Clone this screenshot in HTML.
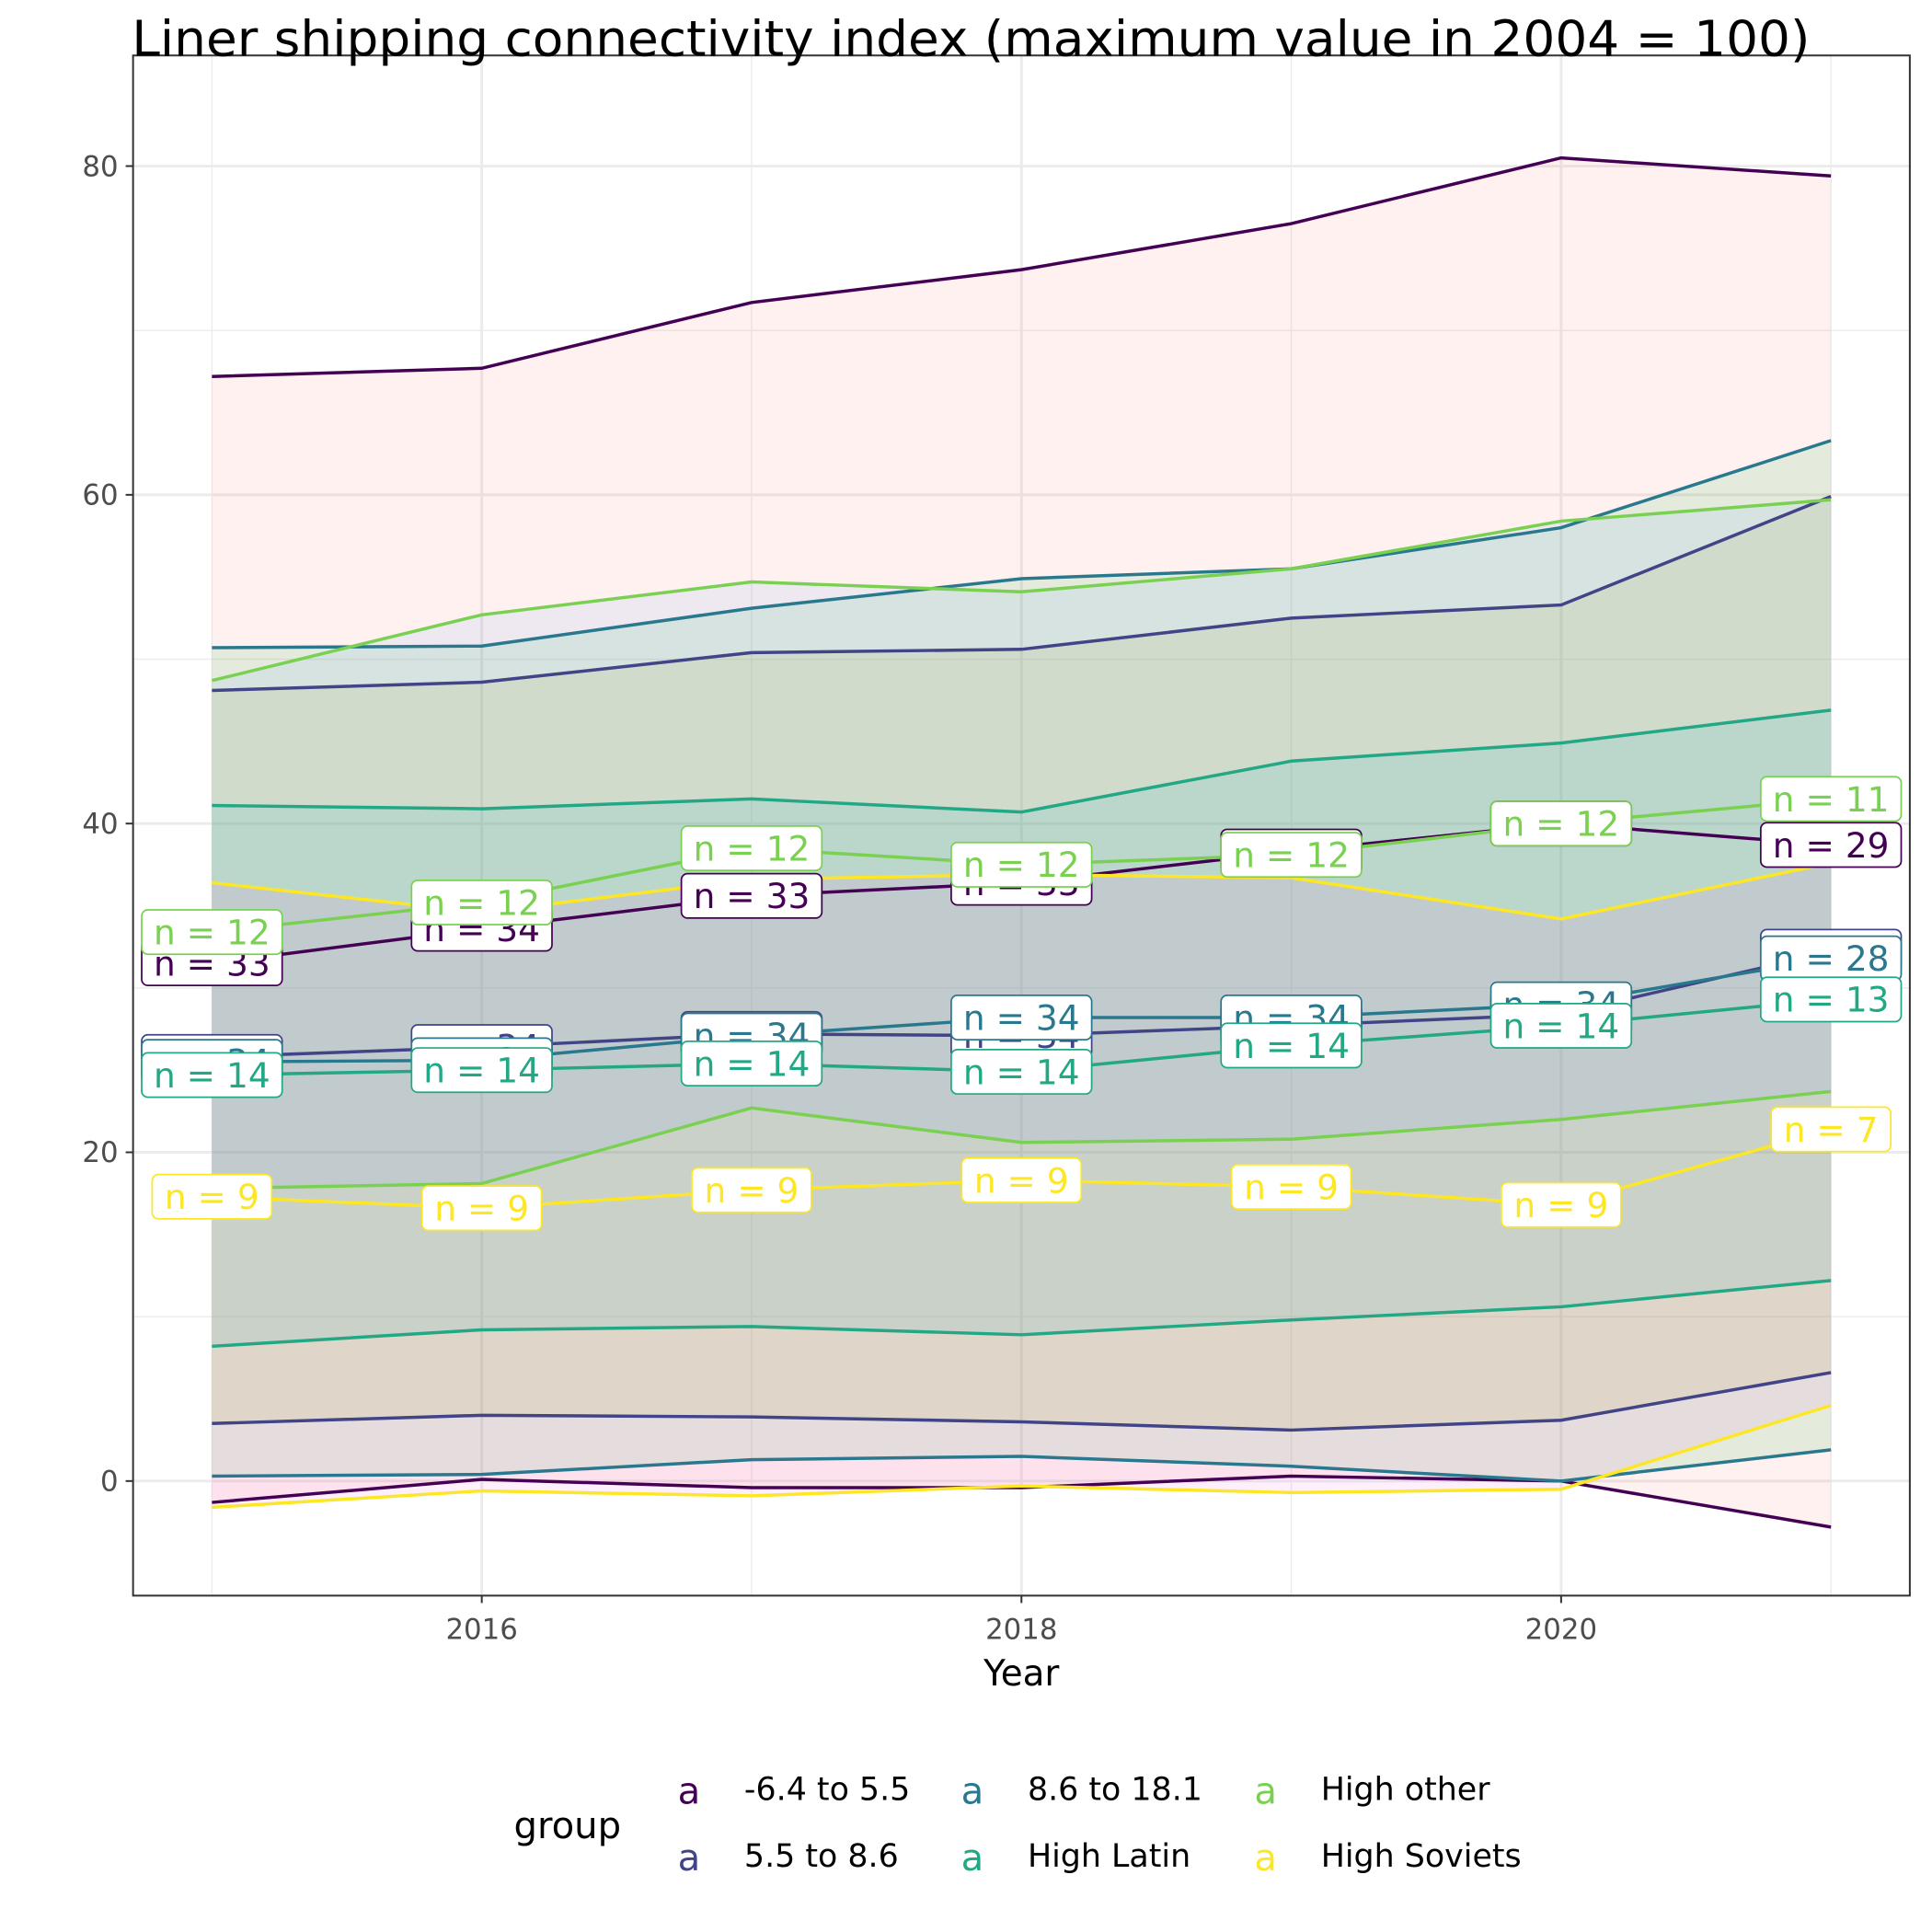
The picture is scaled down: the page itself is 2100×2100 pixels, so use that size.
<!DOCTYPE html>
<html><head><meta charset="utf-8"><style>
html,body{margin:0;padding:0;background:#fff;}
svg{display:block;font-family:"DejaVu Sans","Liberation Sans",sans-serif;}
</style></head><body>
<svg id="chart" width="2100" height="2100" viewBox="0 0 1568 1568" xmlns="http://www.w3.org/2000/svg">
<rect x="108" y="45" width="1442" height="1250" fill="#fff"/>
<g id="grid"></g>
<g id="ribbons"></g>
<g id="lines"></g>
<g id="labels"></g>
<rect x="108" y="45" width="1442" height="1250" fill="none" stroke="#333" stroke-width="1.5"/>
<text x="107" y="45" font-size="40" fill="#000" textLength="1362" lengthAdjust="spacingAndGlyphs">Liner shipping connectivity index (maximum value in 2004 = 100)</text>
<g id="axes"></g>
<text x="829" y="1368" font-size="29" text-anchor="middle">Year</text>
<g id="legend">
<text x="417" y="1492" font-size="30">group</text>
</g>
</svg>
<script>
const years=[2015,2016,2017,2018,2019,2020,2021];
const groups=["-6.4 to 5.5","5.5 to 8.6","8.6 to 18.1","High Latin","High other","High Soviets"];
const lineColors=["#440154","#414487","#2A788E","#22A884","#7AD151","#FDE725"];
const fillColors=["#F8766D","#B79F00","#00BA38","#00BFC4","#619CFF","#F564E3"];
const upperVals=[
[67.2,67.7,71.7,73.7,76.5,80.5,79.4],
[48.1,48.6,50.4,50.6,52.5,53.3,59.9],
[50.7,50.8,53.1,54.9,55.5,58.0,63.3],
[41.1,40.9,41.5,40.7,43.8,44.9,46.9],
[48.7,52.7,54.7,54.1,55.5,58.4,59.7],
[36.4,34.6,36.6,36.9,36.7,34.2,37.6]];
const lowerVals=[
[-1.3,0.1,-0.4,-0.4,0.3,0.0,-2.8],
[3.5,4.0,3.9,3.6,3.1,3.7,6.6],
[0.3,0.4,1.3,1.5,0.9,0.0,1.9],
[8.2,9.2,9.4,8.9,9.8,10.6,12.2],
[17.8,18.1,22.7,20.6,20.8,22.0,23.7],
[-1.6,-0.6,-0.9,-0.3,-0.7,-0.5,4.6]];
const meanVals=[
[31.5,33.6,35.6,36.4,38.3,40.0,38.7],
[25.8,26.4,27.2,27.1,27.7,28.4,32.2],
[25.5,25.6,27.1,28.2,28.2,29.0,31.8],
[24.7,25.0,25.4,24.9,26.5,27.7,29.3],
[33.4,35.2,38.5,37.5,38.1,40.0,41.5],
[17.3,16.6,17.7,18.3,17.9,16.8,21.4]];
const nVals=[
[33,34,33,33,31,30,29],
[34,34,34,34,34,34,34],
[34,34,34,34,34,34,28],
[14,14,14,14,14,14,13],
[12,12,12,12,12,12,11],
[9,9,9,9,9,9,7]];
const yTicks=[0,20,40,60,80];
const xTicks=[2016,2018,2020];

const NS="http://www.w3.org/2000/svg";
const X0=108,X1=1550,Y0=45,Y1=1295;
function xs(v){return 172+(v-2015)*219;}
function ys(v){return 1202-v*13.34;}
function mk(tag,attrs,parent){const e=document.createElementNS(NS,tag);for(const k in attrs)e.setAttribute(k,attrs[k]);parent.appendChild(e);return e;}
const grid=document.getElementById('grid'),axes=document.getElementById('axes');
for(let y=10;y<=80;y+=20){const l=mk('line',{x1:X0,x2:X1,y1:ys(y),y2:ys(y),stroke:'#ebebeb','stroke-width':1},grid);

}
for(let yr=2015;yr<=2021;yr+=2){const l=mk('line',{x1:xs(yr),x2:xs(yr),y1:Y0,y2:Y1,stroke:'#ebebeb','stroke-width':1},grid);

}
yTicks.forEach(t=>{const l=mk('line',{x1:X0,x2:X1,y1:ys(t),y2:ys(t),stroke:'#ebebeb','stroke-width':2.2},grid);


const tk=mk('line',{x1:X0-6,x2:X0,y1:ys(t),y2:ys(t),stroke:'#333','stroke-width':1.5},axes);


const tx=mk('text',{x:X0-12,y:ys(t)+8,'font-size':23,'text-anchor':'end',fill:'#4d4d4d'},axes);tx.textContent=t;

});
xTicks.forEach(t=>{const l=mk('line',{x1:xs(t),x2:xs(t),y1:Y0,y2:Y1,stroke:'#ebebeb','stroke-width':2.2},grid);


const tk=mk('line',{x1:xs(t),x2:xs(t),y1:Y1,y2:Y1+6,stroke:'#333','stroke-width':1.5},axes);


const tx=mk('text',{x:xs(t),y:Y1+35,'font-size':23,'text-anchor':'middle',fill:'#4d4d4d'},axes);tx.textContent=t;

});
const rib=document.getElementById('ribbons'),lin=document.getElementById('lines'),lab=document.getElementById('labels');
function path(vals){return vals.map((v,i)=>(i?'L':'M')+xs(years[i])+','+ys(v)).join(' ');}
groups.forEach((g,gi)=>{
 const up=upperVals[gi].map((v,i)=>xs(years[i])+','+ys(v));
 const lo=lowerVals[gi].map((v,i)=>xs(years[i])+','+ys(v)).reverse();
 const r=mk('polygon',{points:up.concat(lo).join(' '),fill:fillColors[gi],'fill-opacity':0.1},rib);
 
 
 [upperVals[gi],lowerVals[gi],meanVals[gi]].forEach((vals,k)=>{
  const p=mk('path',{d:path(vals),fill:'none',stroke:lineColors[gi],'stroke-width':2.6},lin);
  
  
 });
});
groups.forEach((g,gi)=>{
 meanVals[gi].forEach((v,i)=>{
  const txt='n = '+nVals[gi][i];
  const w=txt.length*17+12,h=36;
  let cx=xs(years[i]);let x=cx-w/2;
  if(x<X0)x=X0; if(x+w>X1)x=X1-w;
  const y=ys(v)-h/2;
  const gEl=mk('g',{},lab);
  
  
  mk('rect',{x:x,y:y,width:w,height:h,rx:5,fill:'#fff',stroke:lineColors[gi],'stroke-width':1.3},gEl);
  const t=mk('text',{x:x+w/2,y:y+h/2+10,'font-size':28,'text-anchor':'middle',fill:lineColors[gi]},gEl);
  t.textContent=txt;
 });
});
const leg=document.getElementById('legend');
const legPos=[[550,1462],[550,1516],[780,1462],[780,1516],[1018,1462],[1018,1516]];
[0,1,2,3,4,5].forEach((gi,k)=>{
 const [x,y]=legPos[k];
 const ge=mk('g',{},leg);
 
 
 const a=mk('text',{x:x,y:y+2,'font-size':30,fill:lineColors[gi]},ge);a.textContent='a';
 const t=mk('text',{x:x+54,y:y-1,'font-size':26,fill:'#000'},ge);t.textContent=groups[gi];
});
</script>
</body></html>
